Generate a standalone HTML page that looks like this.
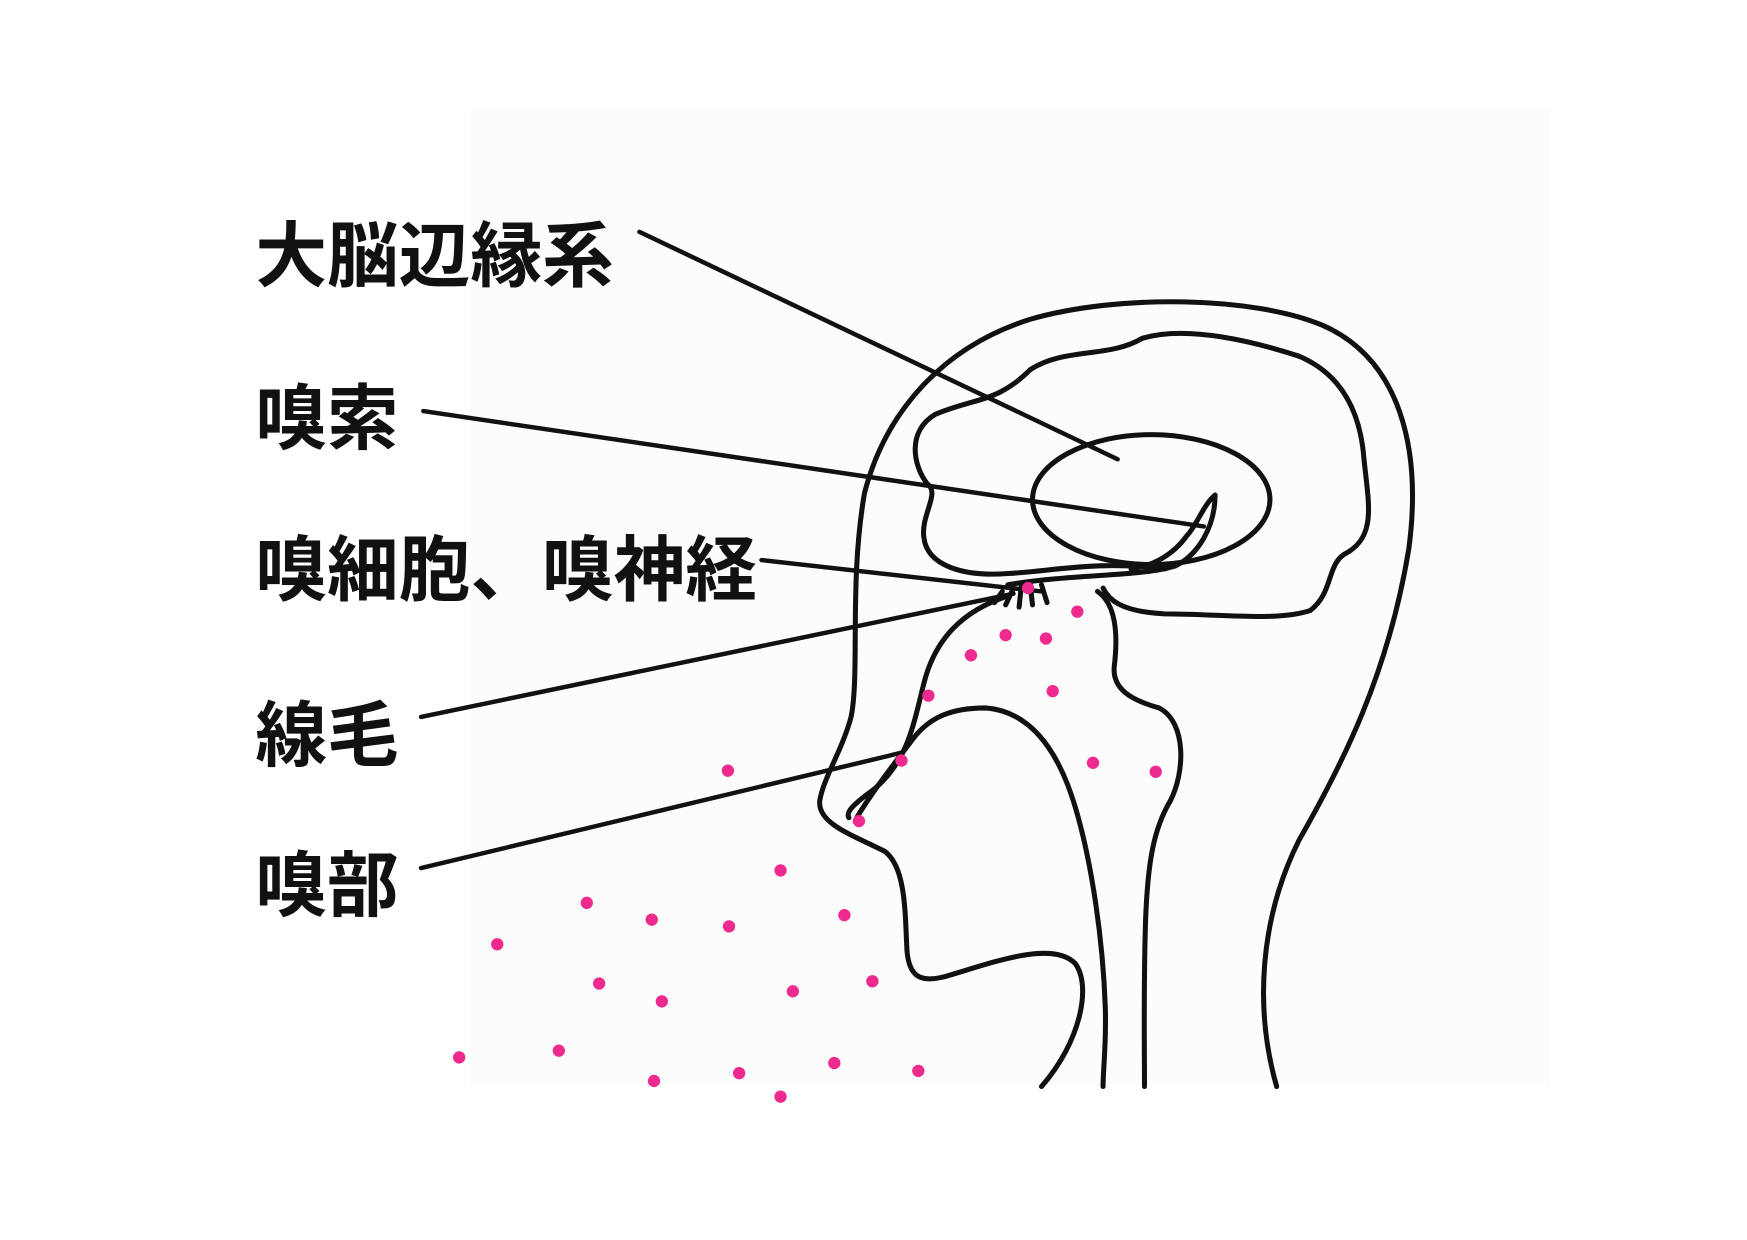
<!DOCTYPE html>
<html><head><meta charset="utf-8"><style>
html,body{margin:0;padding:0;background:#fff;}
svg{display:block;}
text{font-family:"Liberation Sans","Noto Sans CJK JP",sans-serif;font-weight:bold;font-size:64px;fill:#111;}
</style></head><body>
<svg width="1747" height="1240" viewBox="0 0 1560 1107" preserveAspectRatio="none" xmlns="http://www.w3.org/2000/svg">
<rect x="420" y="95" width="965" height="875" fill="#fcfcfc"/>
<g fill="none" stroke="#111" stroke-width="4.5" stroke-linecap="round" stroke-linejoin="round">
<path d="M1140,970 C1120,900 1125,820 1160,750 C1200,680 1240,600 1258,490 C1270,400 1250,320 1180,290 C1120,265 1000,262 920,285 C840,310 790,370 772,440 C758,520 768,600 760,640 C752,670 735,695 732,715 C730,735 760,745 790,760 C810,775 808,820 810,850 C812,870 820,880 850,870 C890,858 940,840 960,860 C975,880 965,930 930,970"/>
<path d="M828,432 C815,415 810,385 835,370 C870,355 890,360 920,330 C950,310 990,320 1020,302 C1060,290 1120,305 1160,318 C1200,335 1215,370 1218,410 C1222,450 1230,480 1200,495 C1185,505 1190,530 1170,545 C1140,555 1090,548 1040,548 C1000,546 990,535 985,525"/>
<path d="M828,432 C840,440 822,460 825,480 C828,505 860,515 900,512 C940,510 980,500 1040,508"/>
<ellipse cx="1028" cy="446" rx="106" ry="58"/>
<path d="M1085,442 C1085,470 1070,495 1050,505 C1020,515 960,512 900,522"/>
<path d="M1085,442 C1075,450 1068,470 1060,478 C1048,495 1030,505 1010,508"/>
<path d="M900,532 C860,545 835,570 825,610 C815,650 810,680 780,705 C762,718 755,725 758,730"/>
<path d="M765,730 C780,705 800,680 815,660 C830,640 850,632 880,632 C920,635 945,670 960,720 C975,770 985,840 987,900 C988,930 985,955 985,970"/>
<path d="M980,528 C998,540 998,570 995,595 C993,615 1010,625 1035,632 C1060,645 1058,690 1045,715 C1030,740 1025,770 1023,820 C1021,880 1022,940 1022,970"/>
<path d="M905,525 L898,540 M912,523 L910,542 M920,522 L922,540 M930,522 L935,538 M895,528 L888,538"/>
</g>
<g stroke="#111" stroke-width="4" stroke-linecap="round">
<line x1="571" y1="207" x2="998" y2="410"/>
<line x1="378" y1="367" x2="1075" y2="470"/>
<line x1="680" y1="500" x2="930" y2="528"/>
<line x1="376" y1="640" x2="905" y2="530"/>
<line x1="376" y1="775" x2="805" y2="672"/>
</g>
<g fill="#ee2a8f">
<circle cx="918" cy="525" r="5.5"/><circle cx="962" cy="546" r="5.5"/><circle cx="898" cy="567" r="5.5"/><circle cx="934" cy="570" r="5.5"/><circle cx="867" cy="585" r="5.5"/><circle cx="829" cy="621" r="5.5"/><circle cx="940" cy="617" r="5.5"/><circle cx="650" cy="688" r="5.5"/><circle cx="805" cy="679" r="5.5"/><circle cx="976" cy="681" r="5.5"/><circle cx="1032" cy="689" r="5.5"/><circle cx="767" cy="733" r="5.5"/><circle cx="697" cy="777" r="5.5"/><circle cx="524" cy="806" r="5.5"/><circle cx="582" cy="821" r="5.5"/><circle cx="651" cy="827" r="5.5"/><circle cx="754" cy="817" r="5.5"/><circle cx="444" cy="843" r="5.5"/><circle cx="535" cy="878" r="5.5"/><circle cx="591" cy="894" r="5.5"/><circle cx="708" cy="885" r="5.5"/><circle cx="779" cy="876" r="5.5"/><circle cx="410" cy="944" r="5.5"/><circle cx="499" cy="938" r="5.5"/><circle cx="584" cy="965" r="5.5"/><circle cx="660" cy="958" r="5.5"/><circle cx="745" cy="949" r="5.5"/><circle cx="820" cy="956" r="5.5"/><circle cx="697" cy="979" r="5.5"/>
</g>
<text x="228" y="251">大脳辺縁系</text>
<text x="228" y="396">嗅索</text>
<text x="228" y="531">嗅細胞、嗅神経</text>
<text x="228" y="679">線毛</text>
<text x="228" y="813">嗅部</text>
</svg>
</body></html>
